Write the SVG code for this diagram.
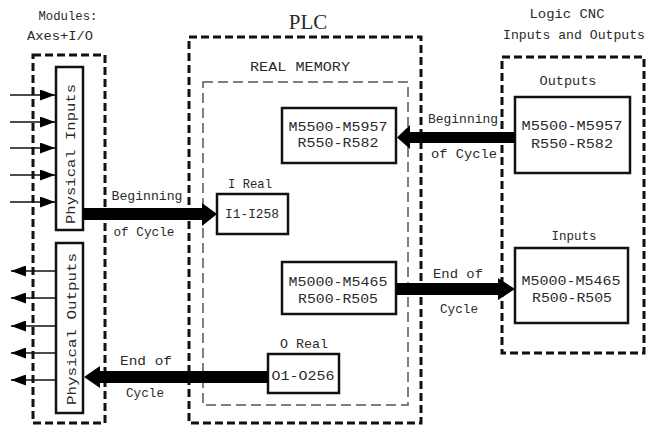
<svg xmlns="http://www.w3.org/2000/svg" width="647" height="428" viewBox="0 0 647 428">
<style>
text{font-family:"Liberation Mono","DejaVu Sans Mono",monospace;fill:#2a2a2a;font-size:13px;}
.c{text-anchor:middle;}
.dash{fill:none;stroke:#111;stroke-width:3;stroke-dasharray:8 4;}
.dash2{fill:none;stroke:#555;stroke-width:1.5;stroke-dasharray:10 5;}
.box{fill:#fff;stroke:#111;stroke-width:2.5;}
.bar{fill:#000;}
.thin{stroke:#111;stroke-width:1.5;fill:none;}
</style>
<defs>
<marker id="ah" viewBox="0 0 15 11" refX="15" refY="5.5" markerWidth="15" markerHeight="11" markerUnits="userSpaceOnUse" orient="auto"><path d="M0,0 L15,5.5 L0,11 Z" fill="#000"/></marker>
</defs>
<rect width="647" height="428" fill="#fff"/>

<g id="modules">
<rect class="dash" x="33" y="55" width="72" height="368"/>
<text class="c" x="68" y="20" textLength="59" lengthAdjust="spacingAndGlyphs">Modules:</text>
<text class="c" x="60" y="40" textLength="66" lengthAdjust="spacingAndGlyphs">Axes+I/O</text>
</g>

<g id="plc">
<rect class="dash" x="189" y="37" width="232" height="386"/>
<text x="308" y="29" text-anchor="middle" style="font-family:'Liberation Serif',serif;font-size:21px">PLC</text>
</g>

<g id="real-memory">
<rect class="dash2" x="203" y="82" width="205" height="323"/>
<text class="c" x="300" y="71" textLength="100" lengthAdjust="spacingAndGlyphs">REAL MEMORY</text>
</g>

<g id="logic-cnc">
<rect class="dash" x="502" y="57" width="142" height="296"/>
<text class="c" x="567" y="18" textLength="75" lengthAdjust="spacingAndGlyphs">Logic CNC</text>
<text class="c" x="574" y="39" textLength="142" lengthAdjust="spacingAndGlyphs">Inputs and Outputs</text>
</g>

<g id="physical-inputs">
<rect class="box" x="56" y="67" width="27" height="163"/>
<text class="c" transform="translate(75,154) rotate(-90)" textLength="140" lengthAdjust="spacingAndGlyphs">Physical  Inputs</text>
</g>

<g id="physical-outputs">
<rect class="box" x="56" y="243" width="27" height="170"/>
<text class="c" transform="translate(76,329) rotate(-90)" textLength="152" lengthAdjust="spacingAndGlyphs">Physical  Outputs</text>
</g>

<g id="i-real">
<text class="c" x="250" y="188" textLength="44" lengthAdjust="spacingAndGlyphs">I Real</text>
<rect class="box" x="217" y="194" width="71" height="40"/>
<text class="c" x="252" y="218" textLength="54" lengthAdjust="spacingAndGlyphs">I1-I258</text>
</g>

<g id="plc-outputs">
<rect class="box" x="282" y="108" width="114" height="55"/>
<text class="c" x="338" y="131" textLength="99" lengthAdjust="spacingAndGlyphs">M5500-M5957</text>
<text class="c" x="338" y="147" textLength="81" lengthAdjust="spacingAndGlyphs">R550-R582</text>
</g>

<g id="plc-inputs">
<rect class="box" x="282" y="262" width="114" height="52"/>
<text class="c" x="338" y="286" textLength="99" lengthAdjust="spacingAndGlyphs">M5000-M5465</text>
<text class="c" x="338" y="303" textLength="80" lengthAdjust="spacingAndGlyphs">R500-R505</text>
</g>

<g id="o-real">
<text class="c" x="304" y="348" textLength="48" lengthAdjust="spacingAndGlyphs">O Real</text>
<rect class="box" x="268" y="354" width="71" height="39"/>
<text class="c" x="303" y="380" textLength="63" lengthAdjust="spacingAndGlyphs">O1-O256</text>
</g>

<g id="cnc-outputs">
<text class="c" x="568" y="85" textLength="57" lengthAdjust="spacingAndGlyphs">Outputs</text>
<rect class="box" x="515" y="97" width="115" height="76"/>
<text class="c" x="572" y="130" textLength="101" lengthAdjust="spacingAndGlyphs">M5500-M5957</text>
<text class="c" x="572" y="148" textLength="82" lengthAdjust="spacingAndGlyphs">R550-R582</text>
</g>

<g id="cnc-inputs">
<text class="c" x="574" y="240" textLength="45" lengthAdjust="spacingAndGlyphs">Inputs</text>
<rect class="box" x="515" y="248" width="113" height="75"/>
<text class="c" x="571" y="285" textLength="99" lengthAdjust="spacingAndGlyphs">M5000-M5465</text>
<text class="c" x="572" y="302" textLength="80" lengthAdjust="spacingAndGlyphs">R500-R505</text>
</g>

<g id="connectors">
<!-- input signals -->
<line class="thin" x1="10" y1="95" x2="55" y2="95" marker-end="url(#ah)"/>
<line class="thin" x1="10" y1="122" x2="55" y2="122" marker-end="url(#ah)"/>
<line class="thin" x1="10" y1="148" x2="55" y2="148" marker-end="url(#ah)"/>
<line class="thin" x1="10" y1="175" x2="55" y2="175" marker-end="url(#ah)"/>
<line class="thin" x1="10" y1="202" x2="55" y2="202" marker-end="url(#ah)"/>
<!-- output signals -->
<line class="thin" x1="56" y1="271" x2="11" y2="271" marker-end="url(#ah)"/>
<line class="thin" x1="56" y1="298" x2="11" y2="298" marker-end="url(#ah)"/>
<line class="thin" x1="56" y1="326" x2="11" y2="326" marker-end="url(#ah)"/>
<line class="thin" x1="56" y1="353" x2="11" y2="353" marker-end="url(#ah)"/>
<line class="thin" x1="56" y1="380" x2="11" y2="380" marker-end="url(#ah)"/>
<!-- thick arrows -->
<path class="bar" d="M83,208 L202,208 L202,203 L217,214 L202,226 L202,220 L83,220 Z"/>
<path class="bar" d="M515,132 L410,132 L410,125 L397,137.5 L410,149 L410,143 L515,143 Z"/>
<path class="bar" d="M396,283 L498,283 L498,278 L515,289 L498,300 L498,295 L396,295 Z"/>
<path class="bar" d="M268,371 L100,371 L100,366 L84,377 L100,388 L100,383 L268,383 Z"/>
<text class="c" x="147" y="200" textLength="71" lengthAdjust="spacingAndGlyphs">Beginning</text>
<text class="c" x="144" y="236" textLength="61" lengthAdjust="spacingAndGlyphs">of Cycle</text>
<text class="c" x="463" y="123" textLength="70" lengthAdjust="spacingAndGlyphs">Beginning</text>
<text class="c" x="464" y="158" textLength="66" lengthAdjust="spacingAndGlyphs">of Cycle</text>
<text class="c" x="458" y="278" textLength="50" lengthAdjust="spacingAndGlyphs">End of</text>
<text class="c" x="459" y="313" textLength="38" lengthAdjust="spacingAndGlyphs">Cycle</text>
<text class="c" x="146" y="365" textLength="52" lengthAdjust="spacingAndGlyphs">End of</text>
<text class="c" x="145" y="397" textLength="38" lengthAdjust="spacingAndGlyphs">Cycle</text>
</g>
</svg>
